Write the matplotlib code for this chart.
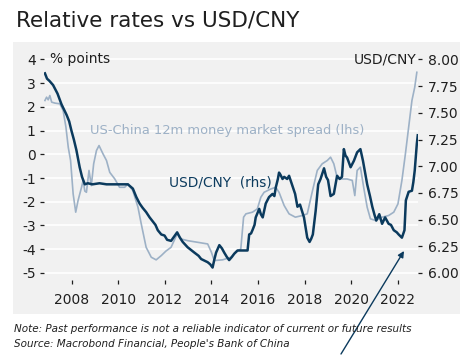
import numpy as np
import matplotlib
matplotlib.use("Agg")
import matplotlib.pyplot as plt
from matplotlib.patches import Rectangle
from matplotlib.ticker import FuncFormatter

# US-China 12m money market spread, % points (lhs)
spread_x = [2006.86, 2006.93, 2007.00, 2007.07, 2007.15, 2007.29, 2007.50, 2007.64, 2007.76, 2007.86,
            2007.96, 2008.07, 2008.18, 2008.28, 2008.43, 2008.50, 2008.57, 2008.64, 2008.75, 2008.85,
            2008.95, 2009.07, 2009.18, 2009.35, 2009.50, 2009.64, 2009.85, 2010.06, 2010.28, 2010.42,
            2010.63, 2010.85, 2010.99, 2011.20, 2011.42, 2011.63, 2011.85, 2012.05, 2012.27, 2012.53,
            2012.70, 2012.98, 2013.41, 2013.84, 2014.00, 2014.12, 2014.48, 2014.84, 2015.05, 2015.26,
            2015.38, 2015.48, 2015.76, 2015.97, 2016.12, 2016.26, 2016.55, 2016.76, 2016.90, 2017.12,
            2017.33, 2017.60, 2017.90, 2018.11, 2018.32, 2018.54, 2018.75, 2018.97, 2019.11, 2019.25,
            2019.39, 2019.60, 2019.82, 2020.04, 2020.15, 2020.25, 2020.39, 2020.53, 2020.68, 2020.82,
            2021.04, 2021.32, 2021.60, 2021.82, 2022.00, 2022.17, 2022.32, 2022.46, 2022.60, 2022.72,
            2022.81]
spread_y = [2.27, 2.41, 2.30, 2.48, 2.20, 2.16, 2.13, 1.85, 1.15, 0.30,
            -0.26, -1.67, -2.44, -1.95, -1.39, -1.10, -1.55, -1.60, -0.68, -1.32,
            -0.40, 0.16, 0.37, 0.02, -0.26, -0.76, -1.03, -1.39, -1.39, -1.25,
            -1.53, -2.23, -2.93, -3.92, -4.34, -4.45, -4.27, -4.08, -3.92, -3.36,
            -3.57, -3.64, -3.71, -3.78, -4.13, -4.48, -4.45, -4.34, -4.13, -3.99,
            -2.65, -2.51, -2.44, -2.30, -1.81, -1.60, -1.46, -1.39, -1.60, -2.16,
            -2.51, -2.65, -2.58, -2.51, -1.60, -0.68, -0.40, -0.26, -0.12, -0.40,
            -0.97, -1.04, -1.04, -1.10, -1.74, -0.68, -0.54, -1.39, -2.23, -2.72,
            -2.79, -2.65, -2.58, -2.44, -2.09, -1.10, 0.02, 1.15, 2.27, 2.83,
            3.46]

# USD/CNY (rhs)
fx_x = [2006.86, 2006.95, 2007.05, 2007.21, 2007.40, 2007.57, 2007.70, 2007.79, 2007.90, 2008.00,
        2008.10, 2008.21, 2008.35, 2008.45, 2008.50, 2008.57, 2008.70, 2008.90, 2009.20, 2009.50,
        2009.80, 2010.10, 2010.42, 2010.47, 2010.63, 2010.78, 2010.92, 2011.05, 2011.20, 2011.35,
        2011.49, 2011.60, 2011.70, 2011.85, 2011.99, 2012.10, 2012.27, 2012.40, 2012.53, 2012.65,
        2012.77, 2012.98, 2013.15, 2013.27, 2013.45, 2013.56, 2013.75, 2013.84, 2013.95, 2014.05,
        2014.12, 2014.20, 2014.34, 2014.45, 2014.55, 2014.66, 2014.76, 2014.88, 2014.98, 2015.12,
        2015.30, 2015.55, 2015.62, 2015.70, 2015.76, 2015.85, 2015.90, 2016.05, 2016.12, 2016.20,
        2016.33, 2016.47, 2016.62, 2016.70, 2016.76, 2016.85, 2016.90, 2016.96, 2017.05, 2017.12,
        2017.25, 2017.33, 2017.47, 2017.59, 2017.69, 2017.80, 2017.97, 2018.11, 2018.21, 2018.28,
        2018.35, 2018.47, 2018.58, 2018.68, 2018.83, 2018.92, 2019.00, 2019.11, 2019.25, 2019.39,
        2019.50, 2019.60, 2019.68, 2019.75, 2019.82, 2019.97, 2020.11, 2020.25, 2020.39, 2020.50,
        2020.58, 2020.68, 2020.80, 2020.90, 2021.00, 2021.07, 2021.20, 2021.32, 2021.45, 2021.60,
        2021.70, 2021.82, 2021.95, 2022.03, 2022.17, 2022.28, 2022.34, 2022.46, 2022.60, 2022.66,
        2022.72, 2022.81, 2022.85]
fx_y = [7.87, 7.82, 7.80, 7.76, 7.68, 7.58, 7.52, 7.48, 7.42, 7.33,
        7.25, 7.15, 6.99, 6.90, 6.87, 6.83, 6.84, 6.83, 6.84, 6.83,
        6.83, 6.83, 6.83, 6.82, 6.79, 6.71, 6.65, 6.61, 6.57, 6.52,
        6.48, 6.45, 6.40, 6.36, 6.35, 6.31, 6.30, 6.34, 6.38, 6.33,
        6.29, 6.24, 6.21, 6.19, 6.16, 6.13, 6.11, 6.10, 6.08, 6.05,
        6.12, 6.19, 6.26, 6.23, 6.19, 6.15, 6.12, 6.15, 6.18, 6.21,
        6.21, 6.21, 6.36, 6.37, 6.40, 6.45, 6.52, 6.60, 6.55, 6.52,
        6.65, 6.71, 6.74, 6.72, 6.80, 6.88, 6.94, 6.92, 6.88, 6.90,
        6.88, 6.91, 6.82, 6.74, 6.62, 6.64, 6.52, 6.33, 6.29, 6.32,
        6.36, 6.58, 6.83, 6.88, 6.98, 6.90, 6.87, 6.72, 6.74, 6.91,
        6.88, 6.90, 7.16, 7.10, 7.08, 6.99, 7.05, 7.13, 7.16, 7.05,
        6.95, 6.83, 6.72, 6.62, 6.54, 6.49, 6.55, 6.46, 6.52, 6.46,
        6.45, 6.40, 6.38, 6.36, 6.33, 6.40, 6.68, 6.76, 6.77, 6.85,
        6.96, 7.21, 7.29]

left_ticks = [-5, -4, -3, -2, -1, 0, 1, 2, 3, 4]
right_ticks = [6.00, 6.25, 6.50, 6.75, 7.00, 7.25, 7.50, 7.75, 8.00]
year_ticks = [2008, 2010, 2012, 2014, 2016, 2018, 2020, 2022]

dark = "#0b3a5d"
light = "#9db1c6"
txt = "#1f1f1f"
plt.rcParams["font.family"] = "DejaVu Sans"

W, H = 473, 358
fig = plt.figure(figsize=(W / 100, H / 100), dpi=100)
fig.add_artist(Rectangle((13 / W, 1 - 314 / H), 447 / W, 272 / H, transform=fig.transFigure,
                         facecolor="#f1f1f1", edgecolor="none", zorder=-5))

ax = fig.add_axes([44 / W, 1 - 280 / H, 374 / W, 230 / H])
ax.set_facecolor("none")
lo, hi = -5.3, 4.4
ax.set_ylim(lo, hi)
ax.set_xlim(2006.82, 2022.86)
ax.set_yticks(left_ticks)
ax.yaxis.set_major_formatter(FuncFormatter(lambda v, p: f"{v:.0f}".replace("\u2212", "-")))
ax.set_xticks(year_ticks)
ax.grid(axis="y", color="white", linewidth=1.2)
ax.set_axisbelow(True)
for s in ax.spines.values():
    s.set_visible(False)
ax.tick_params(axis="y", length=3, width=0.9, color=txt, pad=3, labelsize=10, labelcolor=txt)
ax.tick_params(axis="x", length=3, width=0.9, color=txt, pad=6, labelsize=10, labelcolor=txt)
ax.plot(spread_x, spread_y, color=light, linewidth=1.2)

ax2 = ax.twinx()
ax2.set_ylim(6 + (lo + 5) * 2 / 9, 6 + (hi + 5) * 2 / 9)
ax2.set_yticks(right_ticks)
ax2.yaxis.set_major_formatter(FuncFormatter(lambda v, p: f"{v:.2f}"))
for s in ax2.spines.values():
    s.set_visible(False)
ax2.tick_params(axis="y", length=3, width=0.9, color=txt, pad=4, labelsize=10, labelcolor=txt)
ax2.plot(fx_x, fx_y, color=dark, linewidth=1.8)

ax.text(0.015, 4, "% points", fontsize=10, color=txt, va="center", ha="left",
        transform=ax.get_yaxis_transform())
ax2.text(0.995, 8.0, "USD/CNY", fontsize=10, color=txt, va="center", ha="right",
         transform=ax2.get_yaxis_transform())
ax.text(2008.78, 1.0, "US-China 12m money market spread (lhs)", fontsize=9.4, color=light,
        va="center", ha="left")
ax.text(2012.17, -1.18, "USD/CNY  (rhs)", fontsize=9.9, color=dark, va="center", ha="left")

fig.text(16 / W, 1 - 20 / H, "Relative rates vs USD/CNY", fontsize=15.5, color=txt, va="center", ha="left")
fig.text(14 / W, 1 - 329 / H, "Note: Past performance is not a reliable indicator of current or future results",
         fontsize=7.5, style="italic", color=txt, va="center", ha="left")
fig.text(14 / W, 1 - 344 / H, "Source: Macrobond Financial, People's Bank of China",
         fontsize=7.5, style="italic", color=txt, va="center", ha="left")

fig.add_artist(plt.Annotation("", xy=(404 / W, 1 - 251 / H), xytext=(341 / W, 1 - 354 / H),
                              xycoords="figure fraction", textcoords="figure fraction",
                              arrowprops=dict(arrowstyle="-|>", color=dark, lw=1.0,
                                              mutation_scale=9, shrinkA=0, shrinkB=0)))

fig.savefig("out.png", dpi=100)
